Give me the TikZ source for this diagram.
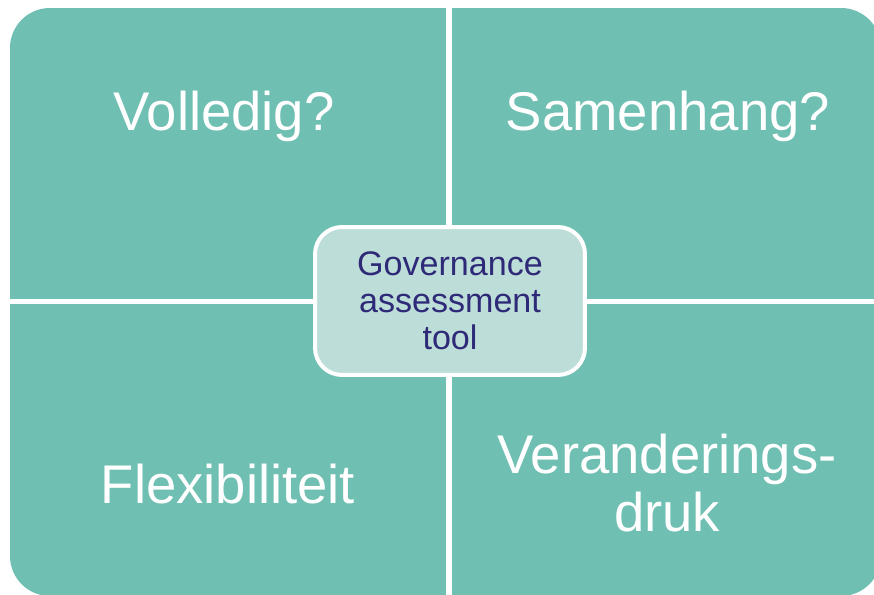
\documentclass[tikz,border=0pt]{standalone}
\usepackage{fontspec}
\setmainfont{Liberation Sans}
\usepackage{xcolor}
\usetikzlibrary{positioning}
\definecolor{quadcol}{HTML}{6FBFB2}
\definecolor{hubfill}{HTML}{BDDDD8}
\definecolor{hubink}{HTML}{2E2A78}
\tikzset{
  quadlabel/.style={text=white, font=\fontsize{31}{33.5}\selectfont, align=center, inner sep=0pt},
  hub/.style={rounded corners=0.54cm, draw=white, fill=hubfill, line width=0.08cm,
              minimum width=5.4cm, minimum height=2.96cm, inner sep=0pt,
              text=hubink, font=\fontsize{19.4}{21}\selectfont, align=center},
}
\begin{document}
\begin{tikzpicture}[x=0.02cm, y=-0.02cm]
\useasboundingbox (0,0) rectangle (874,594);

% ===================== QUADRANTS =====================
\begin{scope}
  \clip[rounded corners=0.8cm] (10,8) rectangle (881,596);
  \fill[quadcol] (10,8)    rectangle (446,299);
  \fill[quadcol] (452,8)   rectangle (881,299);
  \fill[quadcol] (10,304)  rectangle (446,596);
  \fill[quadcol] (452,304) rectangle (881,596);
\end{scope}

% ---- quadrant labels ----
\node[quadlabel, anchor=base] (volledig)  at (224,131) {Volledig?};
\node[quadlabel, anchor=base] (samenhang) at (668,131) {Samenhang?};
\node[quadlabel, anchor=base] (flex)      at (228,503) {Flexibiliteit};
\node[quadlabel]              (druk)      at (667,483) {Veranderings-\\druk};

% ===================== HUB =====================
\node[hub] (tool) at (450,301) {Governance\\assessment\\tool};

\end{tikzpicture}
\end{document}
